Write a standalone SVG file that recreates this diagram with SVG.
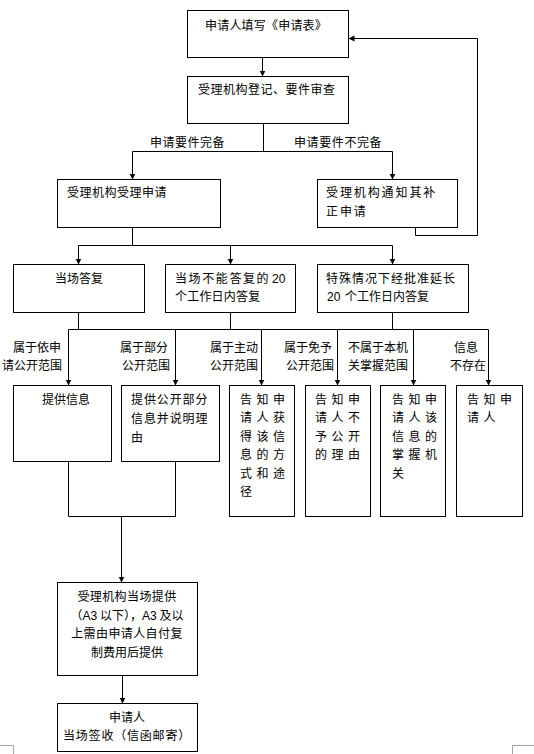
<svg xmlns="http://www.w3.org/2000/svg" width="534" height="754" viewBox="0 0 534 754">
<style>
.box{fill:#fff;stroke:#000;stroke-width:1}
.t{font-family:"Noto Sans CJK SC","Noto Sans CJK JP",sans-serif;font-size:12px;fill:#000}
.lat{font-family:"Liberation Sans",Arial,sans-serif}
.ln{fill:none;stroke:#000;stroke-width:1}
.arr{marker-end:url(#ah)}
.mark{fill:none;stroke:#a0a0a0;stroke-width:1}
.tall{letter-spacing:4.5px}
</style>
<defs>
<marker id="ah" markerUnits="userSpaceOnUse" markerWidth="7" markerHeight="7" refX="6" refY="3.5" orient="auto">
<path d="M0,0.5 L6,3.5 L0,6.5 z" fill="#000"/>
</marker>
</defs>
<rect x="0" y="0" width="534" height="754" fill="#fff"/>
<g id="connectors">
<path class="ln arr" d="M262.5,57.5 V76.5"/>
<path class="ln" d="M263.5,123.5 V151.5 M132.5,151.5 H392.5"/>
<path class="ln arr" d="M132.5,151.5 V179.5"/>
<path class="ln arr" d="M392.5,151.5 V179.5"/>
<path class="ln arr" d="M415.5,227.5 V235.5 H477.5 V38.5 H348.5"/>
<path class="ln" d="M132.5,227.5 V245.5 M78.5,245.5 H392.5"/>
<path class="ln arr" d="M78.5,245.5 V264.5"/>
<path class="ln arr" d="M230.5,245.5 V264.5"/>
<path class="ln arr" d="M392.5,245.5 V264.5"/>
<path class="ln" d="M78.5,312.5 V329.5 M230.5,312.5 V329.5 M392.5,312.5 V329.5 M68.5,329.5 H488.5"/>
<path class="ln arr" d="M68.5,329.5 V385.5"/>
<path class="ln arr" d="M175.5,329.5 V385.5"/>
<path class="ln arr" d="M261.5,329.5 V385.5"/>
<path class="ln arr" d="M337.5,329.5 V385.5"/>
<path class="ln arr" d="M413.5,329.5 V385.5"/>
<path class="ln arr" d="M488.5,329.5 V385.5"/>
<path class="ln" d="M68.5,461.5 V516.5 H175.5 V461.5"/>
<path class="ln arr" d="M121.5,516.5 V582.5"/>
<path class="ln arr" d="M122.5,675.5 V703.5"/>
</g>
<g id="labels">
<text class="t" x="150" y="146.5" style="letter-spacing:0.5px">申请要件完备</text>
<text class="t" x="294" y="146.5" style="letter-spacing:0.6px">申请要件不完备</text>
<text class="t" x="13" y="352">属于依申</text>
<text class="t" x="2" y="370">请公开范围</text>
<text class="t" x="120" y="352">属于部分</text>
<text class="t" x="122" y="370">公开范围</text>
<text class="t" x="210" y="352">属于主动</text>
<text class="t" x="210" y="370">公开范围</text>
<text class="t" x="284" y="352">属于免予</text>
<text class="t" x="286" y="370">公开范围</text>
<text class="t" x="348" y="352">不属于本机</text>
<text class="t" x="348" y="370">关掌握范围</text>
<text class="t" x="454" y="352">信息</text>
<text class="t" x="450" y="370">不存在</text>
</g>
<g id="n1">
<rect class="box" x="187.5" y="10.5" width="161" height="47"/>
<text class="t" x="205" y="29.5" style="letter-spacing:0.2px">申请人填写《申请表》</text>
</g>
<g id="n2">
<rect class="box" x="187.5" y="76.5" width="161" height="47"/>
<text class="t" x="198" y="93.5" style="letter-spacing:0.5px">受理机构登记、要件审查</text>
</g>
<g id="n3">
<rect class="box" x="57.5" y="179.5" width="163" height="48"/>
<text class="t" x="67" y="197" style="letter-spacing:0.5px">受理机构受理申请</text>
</g>
<g id="n4">
<rect class="box" x="317.5" y="179.5" width="140" height="48"/>
<text class="t" x="326" y="197" style="letter-spacing:1.9px">受理机构通知其补</text>
<text class="t" x="326" y="216" style="letter-spacing:1.9px">正申请</text>
</g>
<g id="n5">
<rect class="box" x="13.5" y="264.5" width="131" height="48"/>
<text class="t" x="55" y="282.5">当场答复</text>
</g>
<g id="n6">
<rect class="box" x="165.5" y="264.5" width="130" height="48"/>
<text class="t" x="175" y="282.5" style="letter-spacing:1.6px">当场不能答复的</text>
<text class="t lat" x="272" y="282.5">20</text>
<text class="t" x="175" y="300.5" style="letter-spacing:0.2px">个工作日内答复</text>
</g>
<g id="n7">
<rect class="box" x="317.5" y="264.5" width="151" height="48"/>
<text class="t" x="326" y="282.5" style="letter-spacing:1px">特殊情况下经批准延长</text>
<text class="t lat" x="327" y="300.5">20</text>
<text class="t" x="345" y="300.5">个工作日内答复</text>
</g>
<g id="n8">
<rect class="box" x="13.5" y="385.5" width="98" height="76"/>
<text class="t" x="42" y="403.5">提供信息</text>
</g>
<g id="n9">
<rect class="box" x="121.5" y="385.5" width="98" height="76"/>
<text class="t" x="131" y="403.5" style="letter-spacing:0.9px">提供公开部分</text>
<text class="t" x="131" y="422.5" style="letter-spacing:0.9px">信息并说明理</text>
<text class="t" x="131" y="441.5">由</text>
</g>
<g id="n10">
<rect class="box" x="229.5" y="385.5" width="65" height="131"/>
<text class="t tall" x="240" y="403.5">告知申</text>
<text class="t tall" x="240" y="422">请人获</text>
<text class="t tall" x="240" y="440.6">得该信</text>
<text class="t tall" x="240" y="459.2">息的方</text>
<text class="t tall" x="240" y="477.8">式和途</text>
<text class="t tall" x="240" y="496.4">径</text>
</g>
<g id="n11">
<rect class="box" x="305.5" y="385.5" width="65" height="131"/>
<text class="t tall" x="315" y="403.5">告知申</text>
<text class="t tall" x="315" y="422">请人不</text>
<text class="t tall" x="315" y="440.6">予公开</text>
<text class="t tall" x="315" y="459.2">的理由</text>
</g>
<g id="n12">
<rect class="box" x="380.5" y="385.5" width="65" height="131"/>
<text class="t tall" x="392" y="403.5">告知申</text>
<text class="t tall" x="392" y="422">请人该</text>
<text class="t tall" x="392" y="440.6">信息的</text>
<text class="t tall" x="392" y="459.2">掌握机</text>
<text class="t tall" x="392" y="477.8">关</text>
</g>
<g id="n13">
<rect class="box" x="456.5" y="385.5" width="66" height="131"/>
<text class="t tall" x="467" y="403.5">告知申</text>
<text class="t tall" x="467" y="422">请人</text>
</g>
<g id="n14">
<rect class="box" x="57.5" y="582.5" width="140" height="93"/>
<text class="t" x="127" y="600.5" text-anchor="middle" style="letter-spacing:0.4px">受理机构当场提供</text>
<text class="t" x="127" y="619.5" text-anchor="middle">（<tspan class="lat">A3</tspan> 以下），<tspan class="lat">A3</tspan> 及以</text>
<text class="t" x="127" y="637.5" text-anchor="middle" style="letter-spacing:0.4px">上需由申请人自付复</text>
<text class="t" x="127" y="656.5" text-anchor="middle">制费用后提供</text>
</g>
<g id="n15">
<rect class="box" x="57.5" y="703.5" width="140" height="48"/>
<text class="t" x="127" y="721.5" text-anchor="middle">申请人</text>
<text class="t" x="127" y="739.5" text-anchor="middle" style="letter-spacing:0.8px">当场签收（信函邮寄）</text>
</g>
<g id="page-marks">
<path class="mark" d="M0,745.5 H13.5 V754 M512.5,754 V745.5 H534"/>
</g>
</svg>
